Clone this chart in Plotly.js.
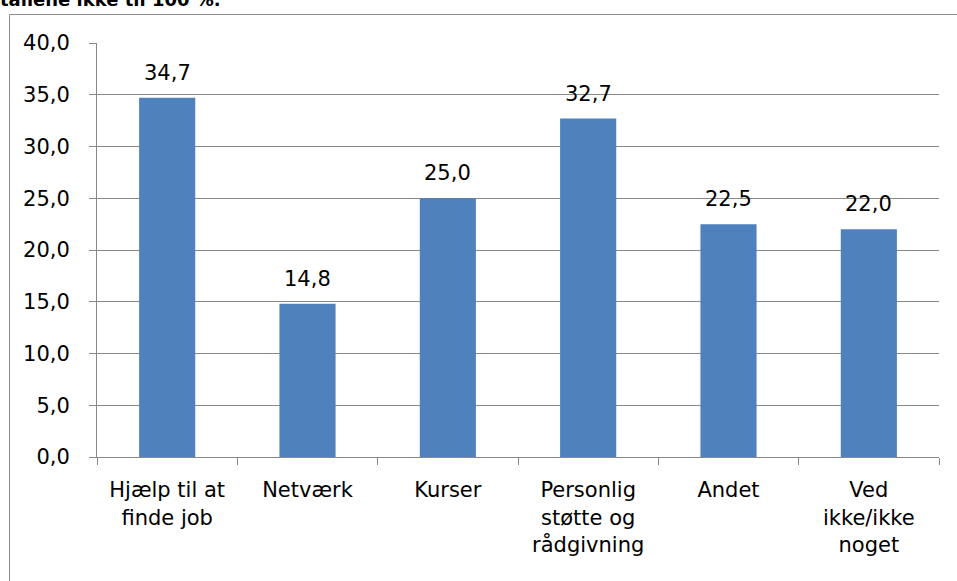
<!DOCTYPE html>
<html>
<head>
<meta charset="utf-8">
<script src="https://cdn.plot.ly/plotly-3.0.1.min.js"></script>
<style>
  html, body { margin: 0; padding: 0; background: #ffffff; }
  #chart { width: 957px; height: 581px; }
</style>
</head>
<body>
<div id="chart"></div>
<script>
// ---- data ----
const categories = [
  "Hjælp til at<br>finde job",
  "Netværk",
  "Kurser",
  "Personlig<br>støtte og<br>rådgivning",
  "Andet",
  "Ved<br>ikke/ikke<br>noget"
];
const values = [34.7, 14.8, 25.0, 32.7, 22.5, 22.0];
const yTickValues = [0, 5, 10, 15, 20, 25, 30, 35, 40];
const titleText = "tallene ikke til 100 %.";

// ---- styles ----
const FONT = "DejaVu Sans, Verdana, sans-serif";
const GRID = "#888888";
const BAR = "#4F81BD";

const trace = {
  type: "bar",
  x: categories,
  y: values,
  marker: { color: BAR, line: { width: 0 } },
  hoverinfo: "x+y"
};

const labelAnnotations = categories.map((c, i) => ({
  x: c,
  y: values[i],
  xref: "x",
  yref: "y",
  text: values[i].toFixed(1).replace(".", ","),
  showarrow: false,
  yanchor: "middle",
  yshift: 25,
  font: { family: FONT, size: 21, color: "#000000" }
}));

const layout = {
  width: 957,
  height: 581,
  margin: { l: 97, r: 18, t: 43, b: 124, pad: 0 },
  paper_bgcolor: "#ffffff",
  plot_bgcolor: "#ffffff",
  separators: ", ",
  showlegend: false,
  bargap: 0.6,
  title: {
    text: "<b>" + titleText + "</b>",
    xref: "container",
    yref: "container",
    x: 0,
    xanchor: "left",
    y: 1.0,
    yanchor: "middle",
    pad: { t: 0, b: 0, l: 0, r: 0 },
    font: { family: FONT, size: 18, color: "#000000" }
  },
  xaxis: {
    type: "category",
    showgrid: false,
    showline: true,
    linecolor: GRID,
    linewidth: 1,
    ticks: "outside",
    tickson: "boundaries",
    ticklen: 7,
    tickcolor: GRID,
    tickwidth: 1,
    ticklabelstandoff: 14,
    tickfont: { family: FONT, size: 21, color: "#000000" },
    fixedrange: true
  },
  yaxis: {
    range: [0, 40],
    tickvals: yTickValues,
    tickformat: ".1f",
    showgrid: true,
    gridcolor: GRID,
    gridwidth: 1,
    zeroline: false,
    showline: true,
    linecolor: GRID,
    linewidth: 1,
    ticks: "outside",
    ticklen: 7,
    tickcolor: GRID,
    tickwidth: 1,
    ticklabelstandoff: 15,
    tickfont: { family: FONT, size: 21, color: "#000000" },
    fixedrange: true
  },
  annotations: labelAnnotations,
  shapes: [
    { type: "line", xref: "paper", yref: "paper",
      x0: (9.5 - 97) / 842, x1: (9.5 - 97) / 842,
      y0: (457 - 14.5) / 414, y1: (457 - 600) / 414,
      line: { color: "#8c8c8c", width: 1 } },
    { type: "line", xref: "paper", yref: "paper",
      x0: (9.5 - 97) / 842, x1: (970 - 97) / 842,
      y0: (457 - 14.5) / 414, y1: (457 - 14.5) / 414,
      line: { color: "#8c8c8c", width: 1 } }
  ]
};

Plotly.newPlot("chart", [trace], layout, { displayModeBar: false, staticPlot: true });
</script>
</body>
</html>
